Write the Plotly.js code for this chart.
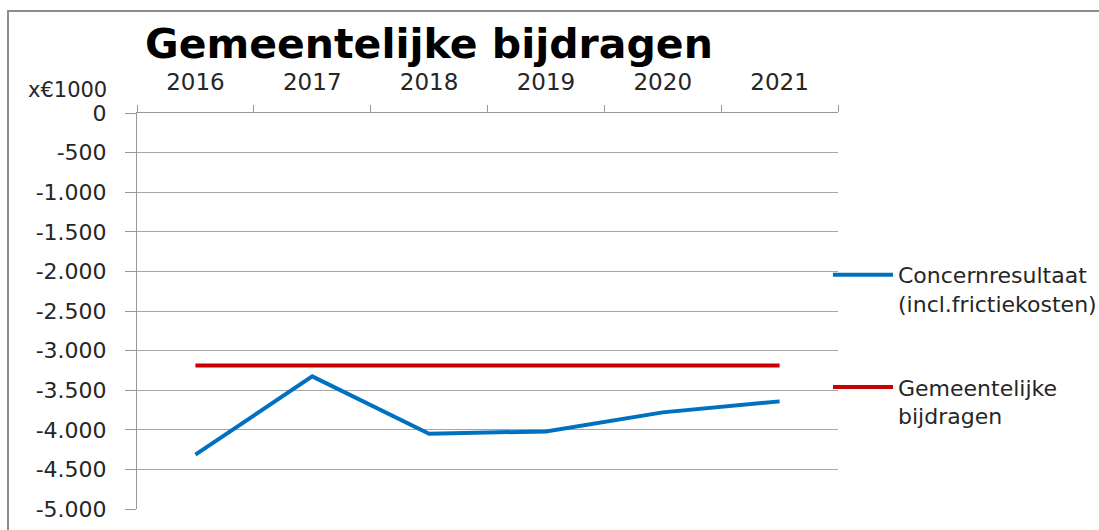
<!DOCTYPE html>
<html><head><meta charset="utf-8">
<script src="https://cdn.plot.ly/plotly-3.0.1.min.js"></script>
<style>
html,body{margin:0;padding:0;background:#fff;}
#wrap{position:relative;width:1099px;height:530px;overflow:hidden;}
#chart{width:1099px;height:530px;}
#frame{position:absolute;left:7px;top:10px;width:1200px;height:600px;border-left:2px solid #8c8c8c;border-top:2px solid #8c8c8c;pointer-events:none;}
</style></head>
<body><div id="wrap"><div id="chart"></div><div id="frame"></div></div>
<script>
const years = ['2016', '2017', '2018', '2019', '2020', '2021'];
const concernresultaat = [-4314, -3326, -4049, -4020, -3780, -3641];
const gemeentelijkeBijdragen = [-3187, -3187, -3187, -3187, -3187, -3187];
const seriesNames = ['Concernresultaat<br>(incl.frictiekosten)', 'Gemeentelijke<br>bijdragen'];
const yTickValues = [0, -500, -1000, -1500, -2000, -2500, -3000, -3500, -4000, -4500, -5000];
const yTickLabels = ['0', '-500', '-1.000', '-1.500', '-2.000', '-2.500', '-3.000', '-3.500', '-4.000', '-4.500', '-5.000'];
const titleText = 'Gemeentelijke bijdragen';
const unitLabel = 'x€1000';

const FONT = 'DejaVu Sans';
const TXT = '#262626';
const GRID = '#a6a6a6';

const traces = [
  {x: years, y: concernresultaat, name: seriesNames[0], type: 'scatter', mode: 'lines',
   line: {color: '#0070C0', width: 4}, legendgroup: 'a'},
  {x: years, y: gemeentelijkeBijdragen, name: seriesNames[1], type: 'scatter', mode: 'lines',
   line: {color: '#C80000', width: 4}, legendgroup: 'b'}
];

const layout = {
  width: 1099, height: 530,
  margin: {l: 137, r: 261, t: 113, b: 21, autoexpand: false},
  paper_bgcolor: 'rgba(0,0,0,0)', plot_bgcolor: '#fff',
  font: {family: FONT, color: TXT},
  title: {text: titleText, font: {family: FONT, size: 41, weight: 'bold', color: '#000'},
          xref: 'container', x: 145/1099, xanchor: 'left', yref: 'container', y: 1 - 44/530, yanchor: 'middle'},
  xaxis: {type: 'category', side: 'top', range: [-0.5, 5.5], tickson: 'boundaries',
          ticks: 'outside', ticklen: 7, tickcolor: '#999', tickwidth: 1,
          showline: true, linecolor: '#999', linewidth: 1, showgrid: false, zeroline: false,
          tickfont: {family: FONT, size: 23, color: TXT}, ticklabelstandoff: 13, fixedrange: true, automargin: false},
  yaxis: {range: [-5000, 0], tickmode: 'array', tickvals: yTickValues, ticktext: yTickLabels,
          ticks: 'outside', ticklen: 11, tickcolor: '#999', tickwidth: 1,
          showline: true, linecolor: '#999', linewidth: 1,
          showgrid: true, gridcolor: GRID, gridwidth: 1, zeroline: false,
          tickfont: {family: FONT, size: 22, color: TXT}, ticklabelstandoff: 14, fixedrange: true, automargin: false},
  showlegend: true,
  legend: {xref: 'container', yref: 'container', x: 828/1099, y: 1 - 254/530, xanchor: 'left', yanchor: 'top',
           font: {family: FONT, size: 22, color: TXT}, valign: 'top', traceorder: 'grouped',
           tracegroupgap: 52, itemwidth: 60, bgcolor: 'rgba(0,0,0,0)', borderwidth: 0},
  annotations: [{text: unitLabel, xref: 'paper', yref: 'paper', x: -0.04, y: (509.3 - 90) / 396,
                 xanchor: 'right', yanchor: 'middle', showarrow: false,
                 font: {family: FONT, size: 21, color: TXT}}]
};

Plotly.newPlot('chart', traces, layout, {displayModeBar: false, staticPlot: true});
</script>
</body></html>
